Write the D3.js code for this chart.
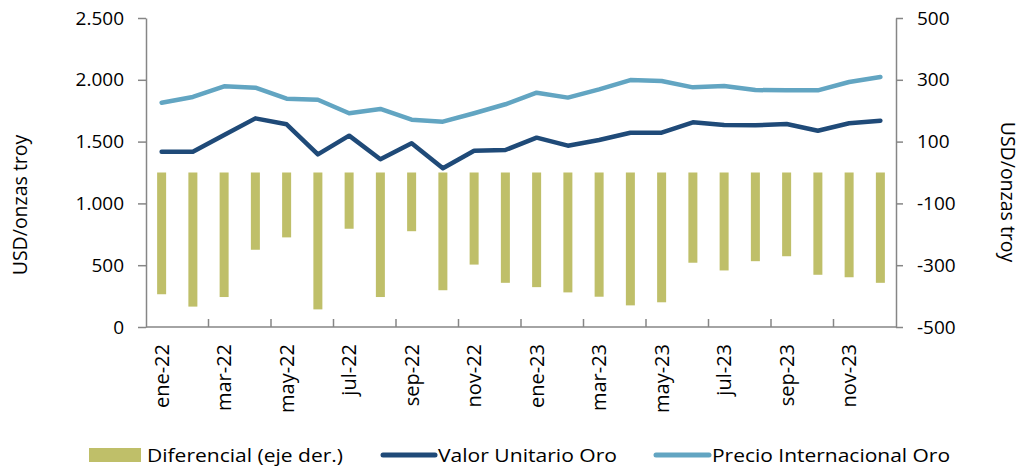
<!DOCTYPE html>
<html>
<head>
<meta charset="utf-8">
<script src="https://cdn.jsdelivr.net/npm/d3@7"></script>
<style>
  body { margin: 0; background: #fff; }
  text { font-family: "Open Sans", sans-serif; fill: #000; }
</style>
</head>
<body>
<svg width="1022" height="469"></svg>
<script>
// months ene-22 .. dic-23
var meses = ["ene-22","feb-22","mar-22","abr-22","may-22","jun-22","jul-22","ago-22","sep-22","oct-22","nov-22","dic-22",
             "ene-23","feb-23","mar-23","abr-23","may-23","jun-23","jul-23","ago-23","sep-23","oct-23","nov-23","dic-23"];
var valorUnitario = [1418,1418,1553,1688,1640,1397,1548,1357,1486,1284,1426,1432,
                     1532,1467,1513,1572,1572,1656,1634,1632,1642,1588,1648,1669];
var precioInternacional = [1815,1861,1947,1936,1847,1839,1729,1764,1677,1661,1729,1802,
                           1896,1856,1923,1998,1990,1939,1950,1917,1915,1915,1982,2023];
var diferencial = [-394,-434,-403,-250,-210,-443,-182,-403,-190,-381,-298,-357,
                   -371,-388,-402,-430,-420,-292,-317,-287,-271,-331,-339,-357];
var ticksIzq = [0,500,1000,1500,2000,2500];
var ticksDer = [-500,-300,-100,100,300,500];
var leyenda = ["Diferencial (eje der.)","Valor Unitario Oro","Precio Internacional Oro"];

var svg = d3.select("svg");
var mLeft = 146, mRight = 896, mTop = 18, mBottom = 327;
var gris = "#868686";
var cBar = "#BFBF69", cOscuro = "#1F4A78", cClaro = "#62A5C2";

var x = d3.scaleBand().domain(meses).range([mLeft, mRight]).paddingInner(0).paddingOuter(0);
var yL = d3.scaleLinear().domain([0, 2500]).range([mBottom, mTop]);
var yR = d3.scaleLinear().domain([-500, 500]).range([mBottom, mTop]);

var fmt = function (d) { return d3.format(",")(d).replace(/,/g, "."); };

// bars
svg.append("g")
    .selectAll("rect")
    .data(diferencial)
    .enter().append("rect")
    .attr("x", function (d, i) { return x(meses[i]) + x.bandwidth() / 2 - 4.5; })
    .attr("width", 9)
    .attr("y", function (d) { return yR(Math.max(0, d)); })
    .attr("height", function (d) { return Math.abs(yR(d) - yR(0)); })
    .attr("fill", cBar);

// lines
var linea = function (serie) {
    return d3.line()
        .x(function (d, i) { return x(meses[i]) + x.bandwidth() / 2; })
        .y(function (d) { return yL(d); })(serie);
};
svg.append("path").attr("d", linea(valorUnitario))
    .attr("fill", "none").attr("stroke", cOscuro).attr("stroke-width", 4.5)
    .attr("stroke-linejoin", "round").attr("stroke-linecap", "round");
svg.append("path").attr("d", linea(precioInternacional))
    .attr("fill", "none").attr("stroke", cClaro).attr("stroke-width", 4.5)
    .attr("stroke-linejoin", "round").attr("stroke-linecap", "round");

// left axis
var axL = svg.append("g").attr("transform", "translate(" + mLeft + ",0)")
    .call(d3.axisLeft(yL).tickValues(ticksIzq).tickFormat(fmt).tickSize(8).tickSizeOuter(0).tickPadding(14));
// right axis
var axR = svg.append("g").attr("transform", "translate(" + mRight + ",0)")
    .call(d3.axisRight(yR).tickValues(ticksDer).tickFormat(function (d) { return String(d); })
        .tickSize(7).tickSizeOuter(0).tickPadding(14));
[axL, axR].forEach(function (a) {
    a.select(".domain").attr("stroke", gris).attr("stroke-width", 1.5);
    a.selectAll(".tick line").attr("stroke", gris).attr("stroke-width", 1.5);
    a.selectAll(".tick text").style("font-family", "Open Sans").style("font-size", "19px").attr("fill", "#000");
});

// bottom axis: labels every 2 months, ticks inside at boundaries
var axB = svg.append("g").attr("transform", "translate(0," + mBottom + ")");
axB.append("line").attr("x1", mLeft).attr("x2", mRight).attr("stroke", gris).attr("stroke-width", 1.5);
axB.selectAll(".tk")
    .data(meses.filter(function (d, i) { return i % 2 === 0 && i > 0; }))
    .enter().append("line")
    .attr("x1", function (d) { return x(d); })
    .attr("x2", function (d) { return x(d); })
    .attr("y1", 0).attr("y2", -8)
    .attr("stroke", gris).attr("stroke-width", 1.5);
axB.selectAll(".lbl")
    .data(meses.filter(function (d, i) { return i % 2 === 0; }))
    .enter().append("text")
    .attr("transform", function (d) {
        return "translate(" + (x(d) + x.bandwidth() / 2 + 7) + ",17) rotate(-90)";
    })
    .attr("text-anchor", "end")
    .style("font-size", "20px")
    .text(function (d) { return d; });

// axis titles
svg.append("text")
    .attr("transform", "translate(27,205) rotate(-90)")
    .attr("text-anchor", "middle")
    .style("font-size", "19.5px")
    .text("USD/onzas troy");
svg.append("text")
    .attr("transform", "translate(1001,192) rotate(90)")
    .attr("text-anchor", "middle")
    .style("font-size", "19.5px")
    .text("USD/onzas troy");

// legend
var lg = svg.append("g");
lg.append("rect").attr("x", 89).attr("y", 448).attr("width", 52).attr("height", 14).attr("fill", cBar);
lg.append("line").attr("x1", 383).attr("x2", 435).attr("y1", 455).attr("y2", 455)
    .attr("stroke", cOscuro).attr("stroke-width", 5).attr("stroke-linecap", "round");
lg.append("line").attr("x1", 656).attr("x2", 709).attr("y1", 455).attr("y2", 455)
    .attr("stroke", cClaro).attr("stroke-width", 5).attr("stroke-linecap", "round");
var lgX = [147, 438, 712], lgW = [196, 179, 238];
lg.selectAll(".lt").data(leyenda).enter().append("text")
    .attr("x", function (d, i) { return lgX[i]; })
    .attr("y", 462)
    .attr("textLength", function (d, i) { return lgW[i]; })
    .attr("lengthAdjust", "spacingAndGlyphs")
    .style("font-size", "19px")
    .text(function (d) { return d; });
</script>
</body>
</html>
